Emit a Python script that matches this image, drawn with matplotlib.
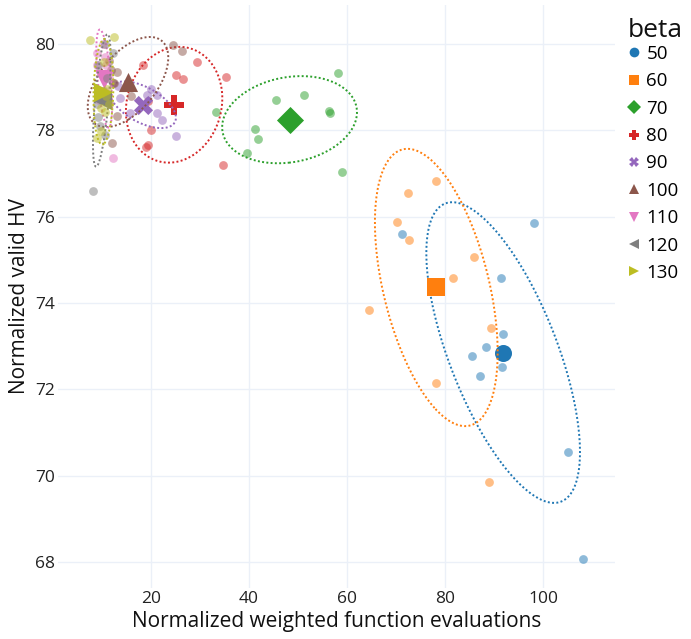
import numpy as np
import matplotlib
matplotlib.use("Agg")
import matplotlib.pyplot as plt
from matplotlib.lines import Line2D

plt.rcParams['font.family'] = ['Open Sans', 'DejaVu Sans']

betas = ["50", "60", "70", "80", "90", "100", "110", "120", "130"]
colors = ["#1f77b4", "#ff7f0e", "#2ca02c", "#d62728", "#9467bd",
          "#8c564b", "#e377c2", "#7f7f7f", "#bcbd22"]
mean_markers = ["o", "s", "D", "P", "X", "^", "v", "<", ">"]

# normalized weighted function evaluations per run, one list per beta
evals_50 = [98.2, 71.2, 91.4, 91.9, 88.4, 85.5, 91.7, 87.1, 105.2, 108.1]
evals_60 = [78.2, 72.5, 70.3, 72.7, 86.0, 81.6, 64.4, 89.4, 78.2, 88.9]
evals_70 = [58.2, 45.4, 51.2, 56.4, 56.6, 33.3, 41.3, 41.8, 39.5, 59.0]
evals_80 = [29.4, 25.1, 26.5, 35.2, 18.4, 19.9, 19.4, 19.0, 34.7, 19.4]
evals_90 = [19.9, 21.3, 19.1, 21.2, 22.3, 25.1, 15.7, 13.3, 11.4, 13.7]
evals_100 = [24.4, 26.4, 13.1, 15.8, 13.1, 12.1, 11.5, 12.5, 11.8, 12.2]
evals_110 = [12.2, 10.2, 10.5, 8.9, 11.5, 11.1, 9.4, 10.6, 10.9, 9.0]
evals_120 = [8.2, 10.5, 12.3, 9.1, 8.9, 9.1, 11.0, 10.2, 9.6, 10.5]
evals_130 = [7.6, 12.4, 10.4, 9.7, 10.6, 9.7, 9.0, 10.8, 11.5, 11.0]

# normalized valid hypervolume per run, one list per beta
hv_50 = [75.86, 75.60, 74.57, 73.29, 72.99, 72.78, 72.51, 72.32, 70.54, 68.06]
hv_60 = [76.83, 76.55, 75.87, 75.45, 75.06, 74.57, 73.83, 73.43, 72.14, 69.86]
hv_70 = [79.32, 78.70, 78.82, 78.44, 78.40, 78.42, 78.02, 77.80, 77.48, 77.04]
hv_80 = [79.58, 79.27, 79.18, 79.23, 79.51, 78.00, 77.66, 77.61, 77.19, 78.67]
hv_90 = [78.96, 78.81, 78.81, 78.40, 78.24, 77.87, 78.40, 79.03, 78.63, 78.75]
hv_100 = [79.98, 79.83, 79.34, 78.79, 78.33, 77.70, 79.60, 79.10, 79.40, 79.10]
hv_110 = [77.36, 80.00, 79.70, 79.50, 79.20, 79.30, 78.70, 78.90, 79.50, 79.80]
hv_120 = [76.60, 80.00, 79.80, 79.50, 78.60, 78.30, 79.20, 78.90, 78.10, 77.90]
hv_130 = [80.09, 80.15, 79.59, 78.51, 78.42, 77.98, 77.81, 78.80, 78.60, 78.95]

evals = [evals_50, evals_60, evals_70, evals_80, evals_90,
         evals_100, evals_110, evals_120, evals_130]
hvs = [hv_50, hv_60, hv_70, hv_80, hv_90, hv_100, hv_110, hv_120, hv_130]

ELLIPSE_SCALE = 1.5  # standard deviations covered by the ellipse


def confidence_ellipse(x, y, k, n=200):
    x = np.asarray(x, float)
    y = np.asarray(y, float)
    cov = np.cov(x, y)
    vals, vecs = np.linalg.eigh(cov)
    t = np.linspace(0, 2 * np.pi, n)
    circle = np.vstack([np.cos(t), np.sin(t)])
    pts = vecs @ (k * np.sqrt(vals)[:, None] * circle)
    return x.mean() + pts[0], y.mean() + pts[1]


W, H = 691, 639
fig = plt.figure(figsize=(W / 100, H / 100), dpi=100)
left, right, top, bottom = 58, 615, 5, 588
ax = fig.add_axes([left / W, 1 - bottom / H, (right - left) / W, (bottom - top) / H])

grid_c = "#ebf0f8"
ax.set_xticks([20, 40, 60, 80, 100])
ax.set_yticks([68, 70, 72, 74, 76, 78, 80])
ax.grid(True, color=grid_c, linewidth=1)
ax.set_axisbelow(True)
for s in ax.spines.values():
    s.set_visible(False)
ax.tick_params(length=0, labelsize=12.5, colors="#222222", pad=2)

# each beta group: runs, spread ellipse, then its mean marker
z = 2
for i in range(len(betas)):
    c = colors[i]
    ax.scatter(evals[i], hvs[i], s=40, color=c, alpha=0.5, linewidths=0, zorder=z)
    ex, ey = confidence_ellipse(evals[i], hvs[i], ELLIPSE_SCALE)
    ax.plot(ex, ey, color=c, linewidth=1.4, linestyle=(0, (1, 1.2)), zorder=z + 1)
    msize = 150 if mean_markers[i] in ("o", "s") else 190
    ax.scatter([np.mean(evals[i])], [np.mean(hvs[i])], s=msize, marker=mean_markers[i],
               color=c, linewidths=0, zorder=z + 2)
    z += 3

ax.set_xlim(1.0, 114.7)
ax.set_ylim(67.4, 80.9)

ax.set_xlabel("Normalized weighted function evaluations", fontsize=15, color="#111111", labelpad=3)
ax.set_ylabel("Normalized valid HV", fontsize=15, color="#111111", labelpad=4)

# legend with its heading placed separately
fig.text(628 / W, 1 - 37 / H, "beta", fontsize=19, color="#111111",
         ha="left", va="baseline")
handles = [Line2D([], [], linestyle="none", marker=m, color=c, markersize=7,
                  markeredgewidth=0)
           for m, c in zip(mean_markers, colors)]
leg = fig.legend(handles, betas, loc="upper left",
                 bbox_to_anchor=(623 / W, 1 - 45 / H), frameon=False,
                 fontsize=13.5, handletextpad=0.05, borderpad=0,
                 labelspacing=0.50, handlelength=1.2, borderaxespad=0)

fig.savefig("out.png", dpi=100)
